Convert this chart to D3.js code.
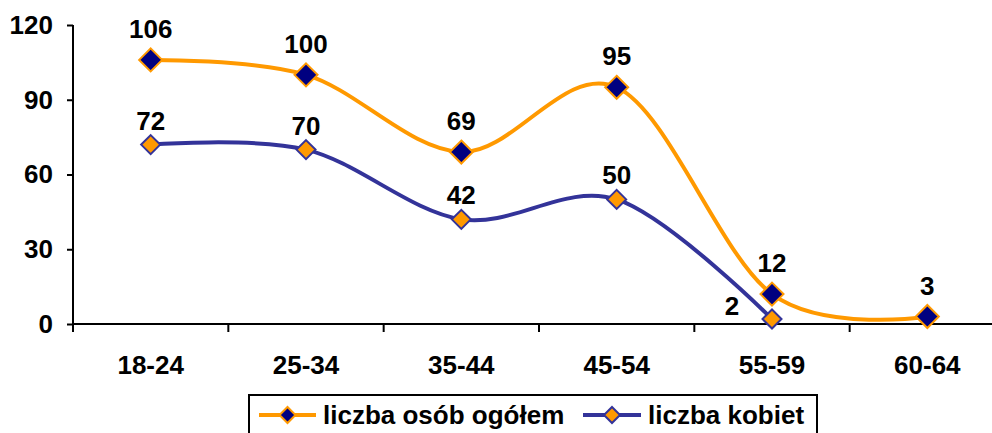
<!DOCTYPE html>
<html>
<head>
<meta charset="utf-8">
<script src="https://cdn.jsdelivr.net/npm/d3@7"></script>
<style>
  body { margin: 0; background: #fff; }
  svg { display: block; }
  text { font-family: "Liberation Sans", Arial, sans-serif; font-weight: bold; font-size: 26px; fill: #000; }
</style>
</head>
<body>
<div id="chart"></div>
<script>
// age groups and the two series
const categories = ['18-24', '25-34', '35-44', '45-54', '55-59', '60-64'];
const totalValues = [106, 100, 69, 95, 12, 3];
const womenValues = [72, 70, 42, 50, 2];
const yTicks = [0, 30, 60, 90, 120];
const seriesNames = ['liczba osób ogółem', 'liczba kobiet'];

const width = 992, height = 433;

const svg = d3.select("#chart")
  .append("svg")
  .attr("width", width)
  .attr("height", height);

const x = d3.scaleBand()
  .domain(categories)
  .range([73, 1005])
  .padding(0);

const y = d3.scaleLinear()
  .domain([0, 120])
  .range([324, 25]);

const cx = d => x(d) + x.bandwidth() / 2;

// y axis
const yAxis = svg.append("g")
  .attr("transform", "translate(73,0)")
  .call(d3.axisLeft(y).tickValues(yTicks).tickSize(6).tickPadding(14));
yAxis.select(".domain").attr("stroke", "#000").attr("stroke-width", 2).attr("d", `M0,${y(120)}V${y(0)}`);
yAxis.selectAll(".tick line").attr("stroke", "#000").attr("stroke-width", 2);
yAxis.selectAll(".tick text").attr("font-size", 26).attr("font-family", null);

// x axis: labels centred, ticks at band boundaries
const xAxis = svg.append("g")
  .attr("transform", `translate(0,${y(0)})`)
  .call(d3.axisBottom(x).tickSize(0).tickPadding(32));
xAxis.select(".domain").remove();
xAxis.selectAll(".tick text").attr("font-size", 26).attr("font-family", null);

svg.append("line")
  .attr("x1", 72).attr("x2", 1005)
  .attr("y1", y(0)).attr("y2", y(0))
  .attr("stroke", "#000").attr("stroke-width", 2);

svg.selectAll(".xtick")
  .data(categories)
  .enter()
  .append("line")
  .attr("class", "xtick")
  .attr("x1", d => x(d)).attr("x2", d => x(d))
  .attr("y1", y(0)).attr("y2", y(0) + 8)
  .attr("stroke", "#000").attr("stroke-width", 2);

const diamond = r => `M0,${-r}L${r},0L0,${r}L${-r},0Z`;

const series = [
  { name: seriesNames[0], values: totalValues, line: "#FF9900", fill: "#000080", stroke: "#FF9900", r: 11.5, off: 22 },
  { name: seriesNames[1], values: womenValues, line: "#333399", fill: "#FF9900", stroke: "#333399", r: 9.5, off: 15 }
];

const line = d3.line()
  .x((d, i) => cx(categories[i]))
  .y(d => y(d))
  .curve(d3.curveCardinal.tension(0));

// draw the women line first so the total line stays on top
series.slice().reverse().forEach(s => {
  svg.append("path")
    .datum(s.values)
    .attr("fill", "none")
    .attr("stroke", s.line)
    .attr("stroke-width", 4)
    .attr("d", line);
});

series.slice().reverse().forEach(s => {
  svg.selectAll(null)
    .data(s.values)
    .enter()
    .append("path")
    .attr("transform", (d, i) => `translate(${cx(categories[i])},${y(d)})`)
    .attr("d", diamond(s.r))
    .attr("fill", s.fill)
    .attr("stroke", s.stroke)
    .attr("stroke-width", 2);

  svg.selectAll(null)
    .data(s.values)
    .enter()
    .append("text")
    .attr("x", (d, i) => (s === series[1] && i === 4) ? cx(categories[i]) - 40 : cx(categories[i]))
    .attr("y", (d, i) => (s === series[1] && i === 4) ? y(d) - 4 : y(d) - s.off)
    .attr("text-anchor", "middle")
    .text(d => d);
});

// legend
const legend = svg.append("g");
legend.append("rect")
  .attr("x", 249).attr("y", 395)
  .attr("width", 568).attr("height", 60)
  .attr("fill", "#fff")
  .attr("stroke", "#000")
  .attr("stroke-width", 2);

const legendItems = [
  { s: series[0], x0: 259, x1: 316, tx: 323 },
  { s: series[1], x0: 583, x1: 641, tx: 648 }
];
legendItems.forEach(item => {
  legend.append("line")
    .attr("x1", item.x0).attr("x2", item.x1)
    .attr("y1", 415).attr("y2", 415)
    .attr("stroke", item.s.line).attr("stroke-width", 4);
  legend.append("path")
    .attr("transform", `translate(${(item.x0 + item.x1) / 2},415)`)
    .attr("d", diamond(8))
    .attr("fill", item.s.fill)
    .attr("stroke", item.s.stroke)
    .attr("stroke-width", 2);
  legend.append("text")
    .attr("x", item.tx).attr("y", 424)
    .text(item.s.name);
});
</script>
</body>
</html>
